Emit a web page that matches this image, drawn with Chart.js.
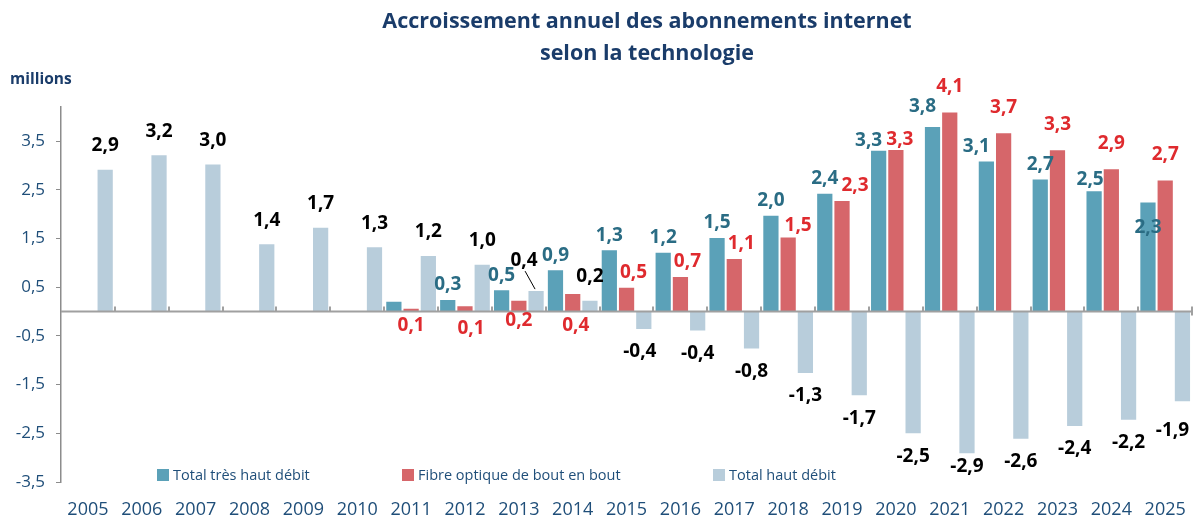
<!DOCTYPE html>
<html lang="fr">
<head>
  <meta charset="UTF-8" />
  <title>Accroissement annuel des abonnements internet</title>
  <script src="https://cdn.jsdelivr.net/npm/chart.js"></script>
  <style>
    * { box-sizing: border-box; margin: 0; padding: 0; }
    body { background: #fff; width: 1203px; height: 523px; overflow: hidden; font-family: 'Open Sans', sans-serif; }
    .wrap { position: relative; width: 1203px; height: 523px; }
    .title {
      position: absolute; left: 297px; width: 700px; top: 4px;
      text-align: center; color: #1a3c6a; font-weight: bold; font-size: 21.5px; line-height: 32px;
    }
    .unit { position: absolute; left: 10px; top: 67px; color: #1a3c6a; font-weight: bold; font-size: 15.5px; }
    .legend { position: absolute; top: 465px; left: 0; height: 20px; font-size: 14.5px; color: #1f4e79; }
    .legend span { position: absolute; white-space: nowrap; line-height: 20px; }
    .legend i { display: inline-block; width: 12px; height: 12px; margin-right: 4px; vertical-align: -1px; }
    canvas { position: absolute; left: 0; top: 0; }
  </style>
</head>
<body>
<div class="wrap">
  <canvas id="chart" width="1203" height="523"></canvas>
  <div class="title">Accroissement annuel des abonnements internet<br>selon la technologie</div>
  <div class="unit">millions</div>
  <div class="legend" id="legend"></div>
</div>

<script>
  // data (millions)
  const years = ['2005', '2006', '2007', '2008', '2009', '2010', '2011', '2012', '2013', '2014', '2015',
                 '2016', '2017', '2018', '2019', '2020', '2021', '2022', '2023', '2024', '2025'];
  const tresHautDebit = [null, null, null, null, null, null, 0.22, 0.26, 0.46, 0.87, 1.28,
                         1.23, 1.53, 1.99, 2.44, 3.32, 3.81, 3.10, 2.73, 2.49, 2.26];
  const fibre = [null, null, null, null, null, null, 0.08, 0.13, 0.24, 0.38, 0.51,
                 0.73, 1.10, 1.54, 2.29, 3.34, 4.11, 3.68, 3.33, 2.94, 2.71];
  const hautDebit = [2.93, 3.23, 3.04, 1.40, 1.74, 1.34, 1.16, 0.98, 0.44, 0.24, -0.38,
                     -0.41, -0.78, -1.28, -1.74, -2.52, -2.93, -2.63, -2.37, -2.24, -1.86];
  const yTicks = [-3.5, -2.5, -1.5, -0.5, 0.5, 1.5, 2.5, 3.5];

  const seriesNames = ['Total très haut débit', 'Fibre optique de bout en bout', 'Total haut débit'];
  const barColors = ['#5ba1b8', '#d6666a', '#b8cddb'];
  const labelColors = ['#2a6c84', '#df2a2e', '#000000'];

  const fmt = v => v.toFixed(1).replace('.', ',');

  // hand placed labels, like in the source sheet ("series:year")
  const labelTweaks = {
    '0:2011': { hide: true },
    '0:2020': { dx: -10, dy: 5 },
    '0:2021': { dx: -10, dy: -5 },
    '0:2022': { dx: -10 },
    '0:2024': { dx: -4, dy: 3 },
    '0:2025': { dy: 40 },
    '1:2011': { base: 14 },
    '1:2012': { base: 17, dx: 6 },
    '1:2013': { base: 9 },
    '1:2014': { base: 14, dx: 3 },
    '1:2015': { dx: 7 }, '1:2016': { dx: 7 }, '1:2017': { dx: 7 },
    '1:2018': { dx: 10, dy: 3 }, '1:2019': { dx: 13 }, '1:2020': { dx: 4, dy: 5 },
    '1:2021': { dy: -11 }, '1:2022': { dy: -11 }, '1:2023': { dy: -11 },
    '1:2024': { dy: -11 }, '1:2025': { dy: -11 },
    '2:2013': { dx: -12, dy: -7, leader: true },
    '2:2015': { dx: -4 },
    '2:2021': { dy: -10 },
    '2:2025': { dx: -10, dy: 6 }
  };

  const barLabels = {
    id: 'barLabels',
    afterDatasetsDraw(chart) {
      const c = chart.ctx;
      const y0 = chart.scales.y.getPixelForValue(0);
      const area = chart.chartArea;

      // zero line with small tick marks at category boundaries
      const n = years.length;
      const w = (area.right - area.left) / n;
      c.save();
      c.strokeStyle = '#a0a0a0';
      c.lineWidth = 2;
      c.beginPath();
      c.moveTo(area.left, y0);
      c.lineTo(area.right, y0);
      for (let i = 1; i <= n; i++) {
        const x = Math.round(area.left + i * w);
        c.moveTo(x, y0 - 5);
        c.lineTo(x, i === n ? y0 + 4 : y0);
      }
      c.stroke();

      c.font = 'bold 19px "Open Sans"';
      c.textAlign = 'center';
      c.textBaseline = 'middle';
      chart.data.datasets.forEach((ds, di) => {
        const meta = chart.getDatasetMeta(di);
        meta.data.forEach((bar, i) => {
          const v = ds.data[i];
          if (v === null) return;
          const t = labelTweaks[di + ':' + years[i]] || {};
          if (t.hide) return;
          let x = bar.x + (t.dx || 0);
          let y;
          if (t.base !== undefined) {
            y = y0 + t.base;
          } else if (v >= 0) {
            y = bar.y - 14 + (t.dy || 0);
            if (di === 2) y -= 9;
          } else {
            y = bar.y + 22 + (t.dy || 0);
          }
          c.fillStyle = labelColors[di];
          c.fillText(fmt(v), x, y);
          if (t.leader) {
            c.strokeStyle = '#000';
            c.lineWidth = 1;
            c.beginPath();
            c.moveTo(x + 1, y + 11);
            c.lineTo(bar.x - 1, bar.y - 1);
            c.stroke();
          }
        });
      });
      c.restore();
    }
  };

  new Chart(document.getElementById('chart'), {
    type: 'bar',
    data: {
      labels: years,
      datasets: [
        { label: seriesNames[0], data: tresHautDebit, backgroundColor: barColors[0] },
        { label: seriesNames[1], data: fibre, backgroundColor: barColors[1] },
        { label: seriesNames[2], data: hautDebit, backgroundColor: barColors[2] }
      ]
    },
    options: {
      responsive: false,
      animation: false,
      layout: { padding: { top: 107, right: 9, left: 0, bottom: 0 } },
      datasets: {
        bar: {
          categoryPercentage: 0.96,
          barPercentage: 1.0,
          borderWidth: 1,
          borderColor: 'rgba(255,255,255,0.55)'
        }
      },
      plugins: {
        legend: { display: false },
        title: { display: false },
        tooltip: { enabled: false }
      },
      scales: {
        x: {
          grid: { display: false, drawTicks: false },
          border: { display: false },
          ticks: {
            color: '#1f4e79',
            font: { family: 'Open Sans', size: 18 },
            padding: 17,
            maxRotation: 0,
            autoSkip: false
          },
          afterFit(scale) { scale.height = 41; }
        },
        y: {
          min: -3.5,
          max: 4.2,
          grid: { drawOnChartArea: false, drawTicks: true, tickLength: 5, color: '#8c8c8c' },
          border: { display: true, color: '#8c8c8c', width: 1.5 },
          ticks: {
            color: '#1f4e79',
            font: { family: 'Open Sans', size: 17 },
            padding: 11,
            callback: v => fmt(v)
          },
          afterBuildTicks(scale) { scale.ticks = yTicks.map(v => ({ value: v })); },
          afterFit(scale) { scale.width = 61; }
        }
      }
    },
    plugins: [barLabels]
  });

  // legend, sitting inside the plot like the original
  const legendPos = [157, 402, 713];
  const legend = document.getElementById('legend');
  seriesNames.forEach((name, i) => {
    const s = document.createElement('span');
    s.style.left = legendPos[i] + 'px';
    s.innerHTML = '<i style="background:' + barColors[i] + '"></i>' + name;
    legend.appendChild(s);
  });
</script>
</body>
</html>
